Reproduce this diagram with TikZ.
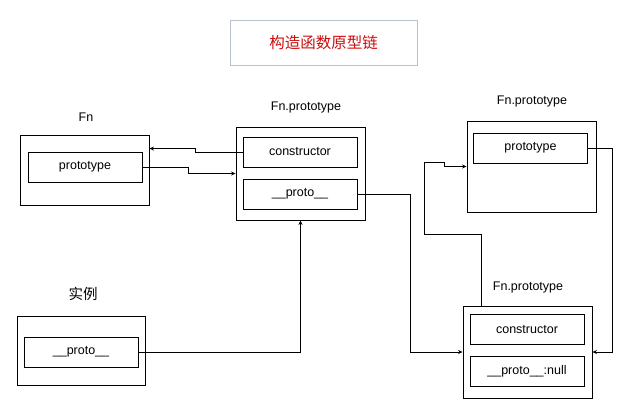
\documentclass[tikz,border=0pt]{standalone}
\usepackage{fontspec}
\setmainfont{Liberation Sans}
\newfontfamily\cjk{Noto Sans CJK SC}
\usepackage{tikz}
\usetikzlibrary{arrows.meta}
\usetikzlibrary{positioning, calc}
\definecolor{titlered}{rgb}{0.8,0.05,0.05}
\definecolor{titleline}{rgb}{0.72,0.76,0.8}

\begin{document}
\begin{tikzpicture}[x=1pt, y=-1pt, line width=0.9pt,
    outer/.style={draw, inner sep=0pt},
    field/.style={draw, inner sep=0pt, minimum width=114pt, minimum height=30pt,
        font=\fontsize{12.5}{14}\selectfont},
    lbl/.style={font=\fontsize{12.5}{14}\selectfont},
    arr/.style={-{Stealth[length=4.5pt, width=4pt]}}]
    \useasboundingbox (0,0) rectangle (633,416);

    % title
    \node[draw=titleline, line width=0.8pt, minimum width=187pt, minimum height=45pt,
        text=titlered, font=\cjk\fontsize{15.5}{17}\selectfont] (title) at (323.5,42.5) {构造函数原型链};

    % outer boxes
    \node[outer, minimum width=129pt, minimum height=70pt] (fn) at (84.5,170) {};
    \node[outer, minimum width=129pt, minimum height=93pt] (mid) at (300.5,173.5) {};
    \node[outer, minimum width=128pt, minimum height=69pt] (inst) at (81,350.5) {};
    \node[outer, minimum width=129pt, minimum height=91pt] (topr) at (531.5,166.5) {};
    \node[outer, minimum width=129pt, minimum height=92pt] (botr) at (527.5,352) {};

    % fields
    \foreach \n/\x/\y/\m in {
        fnproto/85/167/prototype,
        midctor/300/152/constructor,
        midproto/300/194/\_\_proto\_\_,
        instproto/81/352/\_\_proto\_\_,
        toprproto/530.5/148/prototype,
        botrctor/527/329.5/constructor,
        botrnull/527/371/\_\_proto\_\_:null}
        \node[field] (\n) at (\x,\y) {\m};

    % labels
    \foreach \n/\x/\y/\m in {
        fnlbl/86/117/Fn,
        midlbl/306/107/Fn.prototype,
        toprlbl/532/101/Fn.prototype,
        botrlbl/528/287/Fn.prototype}
        \node[lbl] (\n) at (\x,\y) {\m};
    \node[lbl, font=\cjk\fontsize{14.5}{16}\selectfont] (instlbl) at (83,294) {实例};

    % links
    \draw[arr] (midctor.west) -- ++(-47,0) |- ($(fn.north east)+(0,14)$);
    \draw[arr] (fnproto.east) -- ++(46,0) |- (mid.west);
    \draw[arr] (midproto.east) -- ++(53,0) |- (botr.west);
    \draw[arr] (instproto.east) -| (mid.south);
    \draw[arr] (toprproto.east) -- ++(24,0) |- (botr.east);
    \draw[arr] ($(botr.north west)+(19,0)$) -- ++(0,-71) -- ++(-57,0) -- ++(0,-72)
        -- ++(20,0) |- (topr.west);
\end{tikzpicture}
\end{document}
